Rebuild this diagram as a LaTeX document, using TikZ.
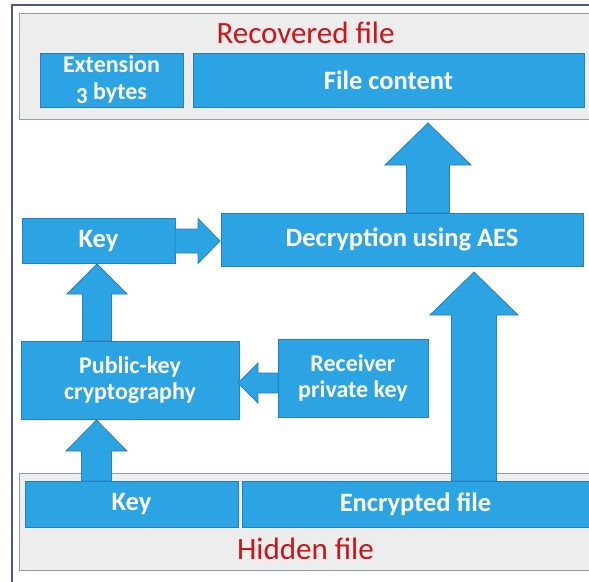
\documentclass[tikz,border=0pt]{standalone}
\usepackage{fontspec}
\setmainfont{Carlito}
\usetikzlibrary{calc}
\definecolor{boxblue}{RGB}{44,163,226}
\definecolor{boxedge}{RGB}{38,128,188}
\definecolor{grayfill}{RGB}{237,237,237}
\definecolor{grayedge}{RGB}{140,160,165}
\definecolor{framecol}{RGB}{75,90,120}
\definecolor{labelred}{RGB}{205,20,25}
\tikzset{
  bluebox/.style={draw=boxedge, fill=boxblue, line width=0.8pt, inner sep=0pt, outer sep=0pt,
    anchor=north west, text=white, font=\fontsize{26.5}{28}\selectfont\bfseries, align=center},
  twoline/.style={font=\fontsize{24}{26.5}\selectfont\bfseries},
  graybox/.style={draw=grayedge, fill=grayfill, line width=1pt, inner sep=0pt, outer sep=0pt, anchor=north west},
  redlabel/.style={text=labelred, font=\fontsize{31}{32}\selectfont, inner sep=0pt, anchor=base},
  blk/.style={fill=boxblue, draw=boxedge, line width=0.8pt, line join=miter},
}
\newcommand\oldthree{\raisebox{-0.2em}{\scalebox{0.95}{3}}}
% vertical up arrow: #1 x, #2 start (bottom), #3 tip, #4 shaft half width, #5 head half width, #6 head length
\newcommand\blkvert[6]{%
  \filldraw[blk] (#1-#4,0 |- #2) -- ($(#1-#4,0 |- #3)+(0,#6)$) -- ($(#1-#5,0 |- #3)+(0,#6)$)
    -- (#1,0 |- #3) -- ($(#1+#5,0 |- #3)+(0,#6)$) -- ($(#1+#4,0 |- #3)+(0,#6)$)
    -- (#1+#4,0 |- #2) -- cycle;}
% horizontal arrow: #1 y, #2 start, #3 tip, #4 shaft half height, #5 head half height, #6 signed head length
\newcommand\blkhorz[6]{%
  \filldraw[blk] (#2 |- 0,#1-#4) -- ($(#3 |- 0,#1-#4)+(-#6,0)$) -- ($(#3 |- 0,#1-#5)+(-#6,0)$)
    -- (#3 |- 0,#1) -- ($(#3 |- 0,#1+#5)+(-#6,0)$) -- ($(#3 |- 0,#1+#4)+(-#6,0)$)
    -- (#2 |- 0,#1+#4) -- cycle;}
\begin{document}
\begin{tikzpicture}[x=1pt,y=-1pt]
\useasboundingbox (0,0) rectangle (589,581);
\clip (0,0) rectangle (589,581);
\fill[white] (0,0) rectangle (589,581);
\draw[framecol, line width=1.6pt] (12,600) -- (12,5) -- (600,5);

% top gray area
\node[graybox, minimum width=600pt, minimum height=106pt] (top) at (19,13) {};
\node[redlabel] (rec) at (305.5,43) {Recovered file};
\node[bluebox, twoline, minimum width=143pt, minimum height=54pt] (ext) at (40,53) {Extension\\\oldthree\ bytes};
\node[bluebox, minimum width=391pt, minimum height=54pt] (fc) at (193,53) {File content};

% middle
\node[bluebox, minimum width=153pt, minimum height=45pt] (key1) at (22,218) {Key};
\node[bluebox, minimum width=362pt, minimum height=53pt] (dec) at (221,213) {Decryption using AES};
\node[bluebox, twoline, minimum width=218pt, minimum height=78pt] (pk) at (21,341) {Public-key\\cryptography};
\node[bluebox, twoline, minimum width=150pt, minimum height=78pt] (recv) at (278,339) {Receiver\\private key};

% bottom gray area
\node[graybox, minimum width=600pt, minimum height=97pt] (bot) at (19,473) {};
\node[bluebox, minimum width=213pt, minimum height=46pt] (key2) at (25,481) {Key};
\node[bluebox, minimum width=360pt, minimum height=46pt] (enc) at (242,481) {\hspace*{-13pt}Encrypted file};
\node[redlabel] (hid) at (305.5,559) {Hidden file};

% arrow tips
\coordinate (t1) at ($(top.south)+(0,4)$);
\coordinate (t3) at ($(key1.south)+(0,1)$);
\coordinate (t5) at ($(pk.south)+(0,1)$);
\coordinate (t6) at ($(dec.south)+(0,6)$);
\coordinate (t2) at ($(dec.west)+(-1,0)$);
\coordinate (t4) at ($(pk.east)+(-1,0)$);

% arrows
\blkvert{428}{dec.north}{t1}{21.5}{43}{42}
\blkhorz{241}{key1.east}{t2}{12}{22.5}{22}
\blkvert{97}{pk.north}{t3}{14.5}{30}{30}
\blkhorz{383}{recv.west}{t4}{10}{20}{-20}
\blkvert{96.5}{key2.north}{t5}{15}{30.5}{31}
\blkvert{474}{enc.north}{t6}{22.5}{44}{43}
\end{tikzpicture}
\end{document}
